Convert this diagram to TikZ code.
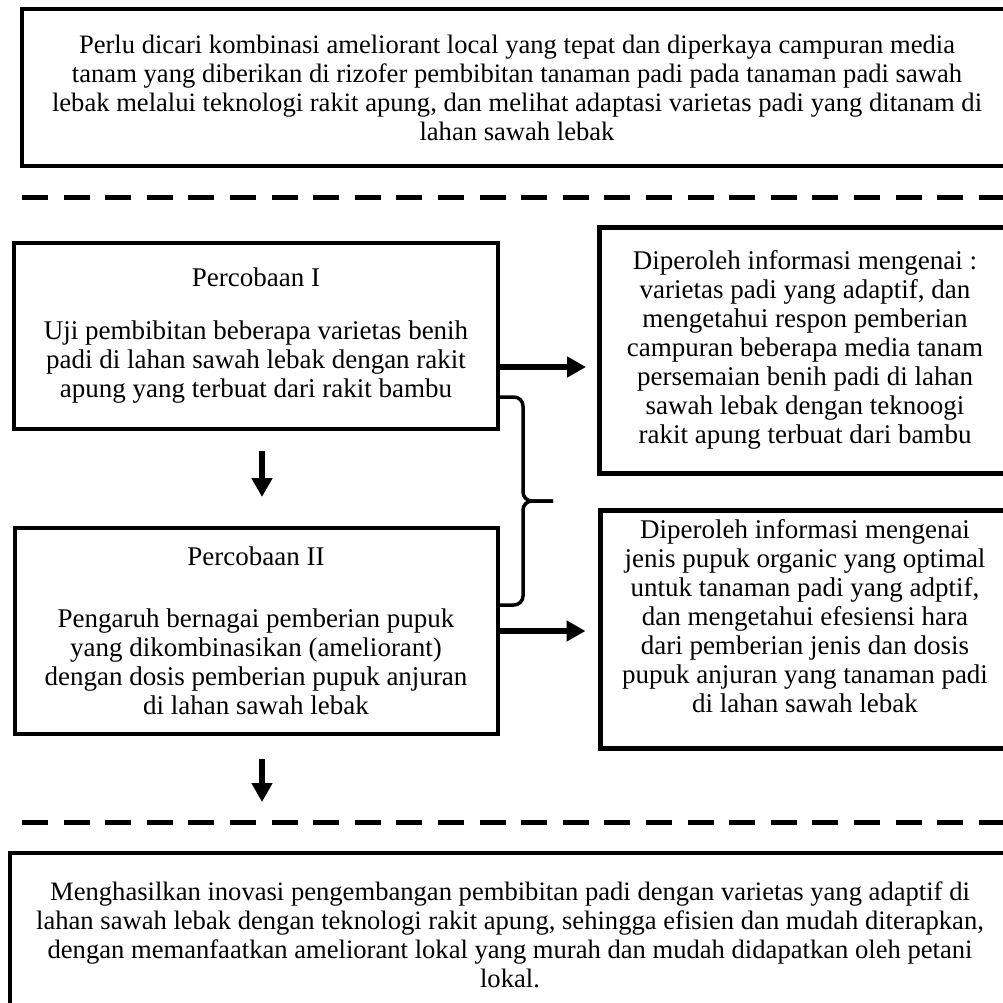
\documentclass[tikz,border=0pt]{standalone}
\usepackage{fontspec}
\setmainfont{Liberation Serif}
\usetikzlibrary{arrows.meta}

\tikzset{
  kotak/.style={draw,line width=4pt,align=center,inner sep=0pt,font=\fontsize{27}{29}\selectfont},
  lebar/.style={kotak,font=\fontsize{26.6}{29}\selectfont},
  pijl/.style={line width=6pt,-{Triangle[length=19pt,width=20pt]}},
  garis/.style={line width=5pt,dash pattern=on 26pt off 15.6pt},
  kurung/.style={line width=3.5pt,rounded corners=9pt}
}

\begin{document}
\begin{tikzpicture}[x=1pt,y=-1pt]
\useasboundingbox (0,0) rectangle (1003,1002);
\clip (0,0) rectangle (1003,1002);

\node[lebar,minimum width=990pt,minimum height=157pt] (atas) at (517,87.5)
  {Perlu dicari kombinasi ameliorant local yang tepat dan diperkaya campuran media\\
   tanam yang diberikan di rizofer pembibitan tanaman padi pada tanaman padi sawah\\
   lebak melalui teknologi rakit apung, dan melihat adaptasi varietas padi yang ditanam di\\
   lahan sawah lebak};

\coordinate (d1a) at (22,197);
\coordinate (d1b) at (1003,197);
\draw[garis] (d1a) -- (d1b);

\node[kotak,minimum width=484pt,minimum height=186pt] (p1) at (256,336)
  {Percobaan I\\[24pt]
   Uji pembibitan beberapa varietas benih\\
   padi di lahan sawah lebak dengan rakit\\
   apung yang terbuat dari rakit bambu};
\node[kotak,minimum width=483pt,minimum height=206pt] (p2) at (256,631)
  {Percobaan II\\[33pt]
   Pengaruh bernagai pemberian pupuk\\
   yang dikombinasikan (ameliorant)\\
   dengan dosis pemberian pupuk anjuran\\
   di lahan sawah lebak};

\node[kotak,line width=5pt,minimum width=411pt,minimum height=246pt] (h1) at (805,350)
  {Diperoleh informasi mengenai :\\
   varietas padi yang adaptif, dan\\
   mengetahui respon pemberian\\
   campuran beberapa media tanam\\
   persemaian benih padi di lahan\\
   sawah lebak dengan teknoogi\\
   rakit apung terbuat dari bambu};
\node[kotak,line width=5pt,minimum width=410pt,minimum height=238pt] (h2) at (805,629)
  {Diperoleh informasi mengenai\\
   jenis pupuk organic yang optimal\\
   untuk tanaman padi yang adptif,\\
   dan mengetahui efesiensi hara\\
   dari pemberian jenis dan dosis\\
   pupuk anjuran yang tanaman padi\\
   di lahan sawah lebak\\[-3pt]\mbox{}};

% panah ke hasil
\draw[pijl] ([yshift=-31pt]p1.east) -- ++(86,0);
\draw[pijl] (p2.east) -- ++(86,0);

% panah ke bawah
\coordinate (t1a) at ([xshift=6pt,yshift=-20pt]p1.south);
\coordinate (t1b) at ([xshift=6pt,yshift=-66pt]p1.south);
\draw[pijl] (t1a) -- (t1b);
\coordinate (t2a) at ([xshift=6pt,yshift=-23pt]p2.south);
\coordinate (t2b) at ([xshift=6pt,yshift=-66pt]p2.south);
\draw[pijl] (t2a) -- (t2b);

% kurung kurawal
\coordinate (k1) at ([yshift=-61pt]p1.east);
\coordinate (k2) at ([yshift=26pt]p2.east);
\coordinate (kv) at (523,501);
\coordinate (kt) at (553,501);
\draw[kurung] (k1) -- (k1 -| kv) -- (kv) -- (kt);
\draw[kurung] (k2) -- (k2 -| kv) -- (kv) -- (kt);

\coordinate (d2a) at (22,822);
\coordinate (d2b) at (1003,822);
\draw[garis] (d2a) -- (d2b);

\node[lebar,minimum width=1000pt,minimum height=164pt] (bawah) at (510,935)
  {Menghasilkan inovasi pengembangan pembibitan padi dengan varietas yang adaptif di\\
   lahan sawah lebak dengan teknologi rakit apung, sehingga efisien dan mudah diterapkan,\\
   dengan memanfaatkan ameliorant lokal yang murah dan mudah didapatkan oleh petani\\
   lokal.};

\end{tikzpicture}
\end{document}
